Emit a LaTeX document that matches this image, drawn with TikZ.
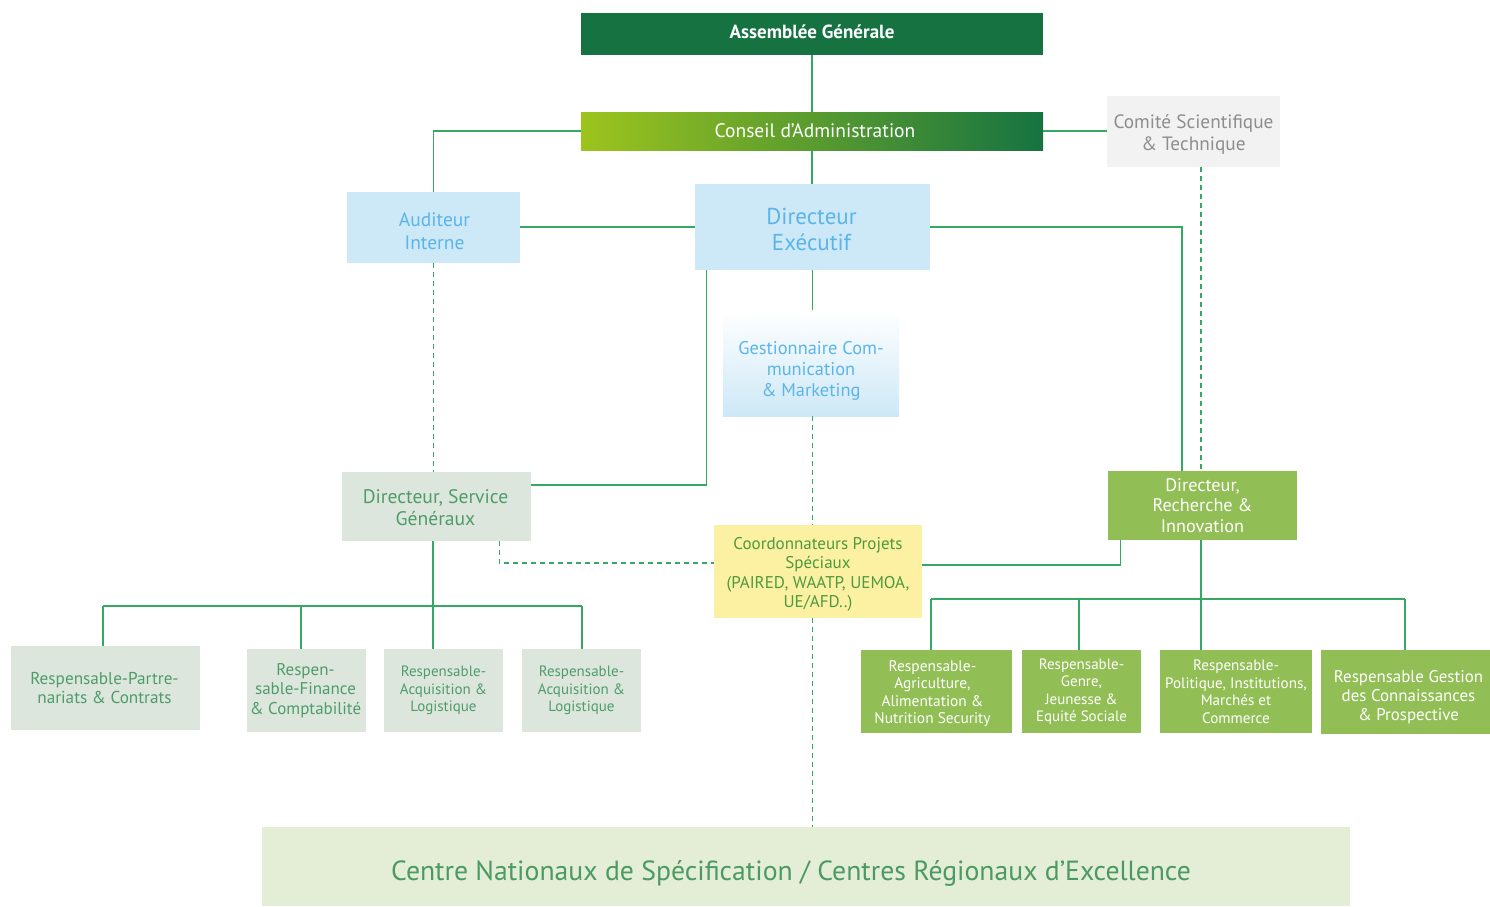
\documentclass[tikz,border=0pt]{standalone}
\usepackage{fontspec}
\setmainfont{PT Sans}
\usetikzlibrary{calc}
\definecolor{dkgreen}{HTML}{167341}
\definecolor{limeg}{HTML}{9DC41D}
\definecolor{lineg}{HTML}{35A862}
\definecolor{bluefill}{HTML}{CDE8F6}
\definecolor{bluetext}{HTML}{5BB5E8}
\definecolor{grayfill}{HTML}{F2F2F2}
\definecolor{graytext}{HTML}{8E8E8E}
\definecolor{sagefill}{HTML}{DCE6DD}
\definecolor{sagetext}{HTML}{4F9C6B}
\definecolor{yelfill}{HTML}{FCF0A3}
\definecolor{yeltext}{HTML}{4E9A3E}
\definecolor{gfill}{HTML}{92BF55}
\definecolor{centfill}{HTML}{E4EDD6}
\definecolor{centtext}{HTML}{4B9A62}
\tikzset{
  box/.style={inner sep=0pt, anchor=center},
  txt/.style={inner sep=0pt, align=center, anchor=center},
  conn/.style={draw=lineg, line width=1.2pt},
  dconn/.style={draw=lineg, line width=1.2pt, dash pattern=on 5pt off 4pt},
}
% #1 text style, #2 box name, #3 xshift, #4 yshift, #5 text
\newcommand\boxlabel[5]{\node[txt,#1] (#2-t) at ([xshift=#3pt,yshift=#4pt]#2.center) {#5};}
\begin{document}
\begin{tikzpicture}[x=1pt,y=-1pt]
\useasboundingbox (0,0) rectangle (1490,906);
\fill[white] (0,0) rectangle (1490,906);

% boxes
\node[box, fill=dkgreen, minimum width=462pt, minimum height=42pt] (ag) at (812,34) {};
\node[box, left color=limeg, right color=dkgreen, minimum width=462pt, minimum height=38pt] (ca) at (812,131) {};
\node[box, fill=grayfill, minimum width=173pt, minimum height=71pt] (com) at (1193.5,131.5) {};
\node[box, fill=bluefill, minimum width=173pt, minimum height=71pt] (aud) at (433.5,227.5) {};
\node[box, fill=bluefill, minimum width=235pt, minimum height=86pt] (de) at (812.5,227) {};
\node[box, top color=white, bottom color=bluefill, minimum width=176pt, minimum height=106pt] (gest) at (811,363) {};
\node[box, fill=sagefill, minimum width=189pt, minimum height=69pt] (dsg) at (436.5,506.5) {};
\node[box, fill=yelfill, minimum width=208pt, minimum height=93pt] (coord) at (818,571.5) {};
\node[box, fill=gfill, minimum width=189pt, minimum height=69pt] (dri) at (1202.5,505.5) {};
\node[box, fill=sagefill, minimum width=189pt, minimum height=84pt] (p1) at (105.5,688) {};
\node[box, fill=sagefill, minimum width=119pt, minimum height=83pt] (fin) at (306.5,690.5) {};
\node[box, fill=sagefill, minimum width=119pt, minimum height=83pt] (aq1) at (443.5,690.5) {};
\node[box, fill=sagefill, minimum width=119pt, minimum height=83pt] (aq2) at (581.5,690.5) {};
\node[box, fill=gfill, minimum width=151pt, minimum height=83pt] (r1) at (936.5,691.5) {};
\node[box, fill=gfill, minimum width=119pt, minimum height=83pt] (r2) at (1081.5,691.5) {};
\node[box, fill=gfill, minimum width=152pt, minimum height=83pt] (r3) at (1236,691.5) {};
\node[box, fill=gfill, minimum width=169pt, minimum height=84pt] (r4) at (1405.5,692) {};
\node[box, fill=centfill, minimum width=1088pt, minimum height=79pt] (centre) at (806,866.5) {};

% texts
\boxlabel{text=white, font=\fontsize{19}{22}\selectfont\bfseries}{ag}{0}{2}{Assemblée Générale}
\boxlabel{text=white, font=\fontsize{19.5}{22}\selectfont}{ca}{3}{0}{Conseil d’Administration}
\boxlabel{text=graytext, font=\fontsize{19.3}{22}\selectfont}{com}{0}{-3}{Comité Scientifique\\\& Technique}
\boxlabel{text=bluetext, font=\fontsize{19.5}{23}\selectfont}{aud}{1}{-4}{Auditeur\\Interne}
\boxlabel{text=bluetext, font=\fontsize{23}{26}\selectfont}{de}{-1}{-2}{Directeur\\Exécutif}
\boxlabel{text=bluetext, font=\fontsize{18.4}{21}\selectfont}{gest}{0}{-8}{Gestionnaire Com-\\munication\\\& Marketing}
\boxlabel{text=sagetext, font=\fontsize{19.6}{22}\selectfont}{dsg}{-1}{-1}{Directeur, Service\\Généraux}
\boxlabel{text=yeltext, font=\fontsize{17}{19.5}\selectfont}{coord}{0}{-3}{Coordonnateurs Projets\\Spéciaux\\(PAIRED, WAATP, UEMOA,\\UE/AFD..)}
\boxlabel{text=white, font=\fontsize{18.2}{20.5}\selectfont}{dri}{0}{0}{Directeur,\\Recherche \&\\Innovation}
\boxlabel{text=sagetext, font=\fontsize{17.2}{19}\selectfont}{p1}{-1}{0}{Respensable-Partre-\\nariats \& Contrats}
\boxlabel{text=sagetext, font=\fontsize{17}{19.5}\selectfont}{fin}{-1}{0}{Respen-\\sable-Finance\\\& Comptabilité}
\boxlabel{text=sagetext, font=\fontsize{15}{17.5}\selectfont}{aq1}{0}{0}{Respensable-\\Acquisition \&\\Logistique}
\boxlabel{text=sagetext, font=\fontsize{15}{17.5}\selectfont}{aq2}{0}{0}{Respensable-\\Acquisition \&\\Logistique}
\boxlabel{text=white, font=\fontsize{15.4}{17.5}\selectfont}{r1}{-4}{-2}{Respensable-\\Agriculture,\\Alimentation \&\\Nutrition Security}
\boxlabel{text=white, font=\fontsize{15}{17.5}\selectfont}{r2}{0}{0}{Respensable-\\Genre,\\Jeunesse \&\\Equité Sociale}
\boxlabel{text=white, font=\fontsize{15.1}{17.5}\selectfont}{r3}{0}{0}{Respensable-\\Politique, Institutions,\\Marchés et\\Commerce}
\boxlabel{text=white, font=\fontsize{16.9}{19}\selectfont}{r4}{3}{-5}{Respensable Gestion\\des Connaissances\\\& Prospective}
\boxlabel{text=centtext, font=\fontsize{27.7}{30}\selectfont}{centre}{-15}{-7}{Centre Nationaux de Spécification / Centres Régionaux d’Excellence}

% connectors
\draw[conn] (ag.south) -- (ca.north);
\draw[conn] (ca.west) -| (aud.north);
\draw[conn] (ca.east) -- (ca.east -| com.west);
\draw[conn] (ca.south) -- (ca.south |- de.north);
\draw[conn] (aud.east |- de.west) -- (de.west);
\draw[conn] (de.east) -| ([xshift=-20.5pt]dri.north);
\draw[conn] (de.south) -- (de.south |- gest.north);
\draw[conn] ([xshift=12pt]de.south west) |- ([yshift=21.5pt]dsg.east);
\draw[dconn] (aud.south) -- (aud.south |- dsg.north);
\draw[dconn] ([xshift=-1.5pt]dri.north |- com.south) -- ([xshift=-1.5pt]dri.north);
\draw[dconn] (gest.south -| de.south) -- (coord.north -| de.south);
\draw[dconn] (coord.south -| de.south) -- (centre.north -| de.south);
\draw[dconn] ([xshift=-32pt]dsg.south east) |- ([yshift=8.5pt]coord.west);
\draw[conn] ([yshift=6.5pt]coord.east) -| ([xshift=13pt]dri.south west);

% left tree
\coordinate (bl1) at (103,606);
\coordinate (bl2) at (301,606);
\coordinate (bl3) at (433,606);
\coordinate (bl4) at (582,606);
\draw[conn] (dsg.south -| bl3) -- (bl3);
\draw[conn] (bl1) -- (bl4);
\draw[conn] (bl1) -- (bl1 |- p1.north);
\draw[conn] (bl2) -- (bl2 |- fin.north);
\draw[conn] (bl3) -- (bl3 |- aq1.north);
\draw[conn] (bl4) -- (bl4 |- aq2.north);

% right tree
\coordinate (br1) at (931,599);
\coordinate (br2) at (1079,599);
\coordinate (br3) at (1201,599);
\coordinate (br4) at (1405,599);
\draw[conn] (dri.south -| br3) -- (br3);
\draw[conn] (br1) -- (br4);
\draw[conn] (br1) -- (br1 |- r1.north);
\draw[conn] (br2) -- (br2 |- r2.north);
\draw[conn] (br3) -- (br3 |- r3.north);
\draw[conn] (br4) -- (br4 |- r4.north);
\end{tikzpicture}
\end{document}
